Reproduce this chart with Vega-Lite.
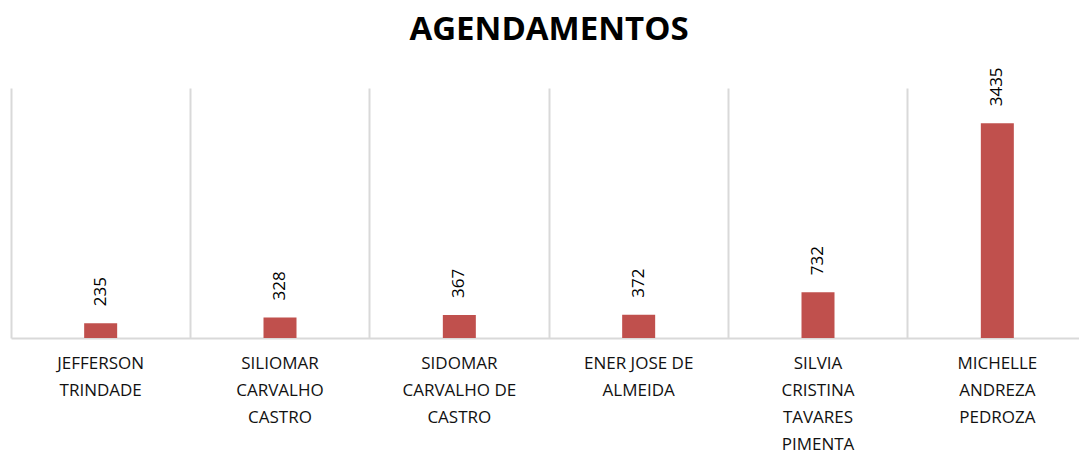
{
  "$schema": "https://vega.github.io/schema/vega-lite/v6.json",
  "autosize": "none",
  "padding": {"left": 11, "top": 88, "right": 0, "bottom": 115},
  "width": 1076,
  "height": 250,
  "background": "white",
  "config": {"view": {"stroke": null}},
  "title": {
    "text": "AGENDAMENTOS",
    "font": "Open Sans",
    "fontSize": 33,
    "fontWeight": "bold",
    "color": "#000000",
    "anchor": "middle",
    "frame": "group",
    "baseline": "alphabetic",
    "offset": -6
  },
  "data": {
    "values": [
      {"nome": "JEFFERSON TRINDADE", "agendamentos": 235},
      {"nome": "SILIOMAR CARVALHO CASTRO", "agendamentos": 328},
      {"nome": "SIDOMAR CARVALHO DE CASTRO", "agendamentos": 367},
      {"nome": "ENER JOSE DE ALMEIDA", "agendamentos": 372},
      {"nome": "SILVIA CRISTINA TAVARES PIMENTA", "agendamentos": 732},
      {"nome": "MICHELLE ANDREZA PEDROZA", "agendamentos": 3435}
    ]
  },
  "encoding": {
    "x": {
      "field": "nome",
      "type": "nominal",
      "sort": null,
      "scale": {"paddingInner": 0, "paddingOuter": 0},
      "axis": {
        "title": null,
        "labelAngle": 0,
        "labelFont": "Open Sans",
        "labelFontSize": 17,
        "labelColor": "#111111",
        "labelLineHeight": 27,
        "labelBaseline": "top",
        "labelPadding": 17,
        "labelLimit": 300,
        "labelExpr": "datum.label == 'SIDOMAR CARVALHO DE CASTRO' ? ['SIDOMAR', 'CARVALHO DE', 'CASTRO'] : datum.label == 'ENER JOSE DE ALMEIDA' ? ['ENER JOSE DE', 'ALMEIDA'] : split(datum.label, ' ')",
        "ticks": false,
        "domainColor": "#d9d9d9",
        "domainWidth": 2,
        "grid": true,
        "gridColor": "#d9d9d9",
        "gridWidth": 2,
        "bandPosition": 0
      }
    },
    "y": {
      "field": "agendamentos",
      "type": "quantitative",
      "scale": {"domain": [0, 4000], "nice": false},
      "axis": null
    }
  },
  "layer": [
    {"mark": {"type": "bar", "width": 33, "color": "#c0504d"}},
    {
      "mark": {
        "type": "text",
        "angle": 270,
        "align": "left",
        "baseline": "middle",
        "font": "Open Sans",
        "fontSize": 17,
        "color": "#000000",
        "yOffset": -17
      },
      "encoding": {"text": {"field": "agendamentos", "type": "quantitative"}}
    }
  ]
}
